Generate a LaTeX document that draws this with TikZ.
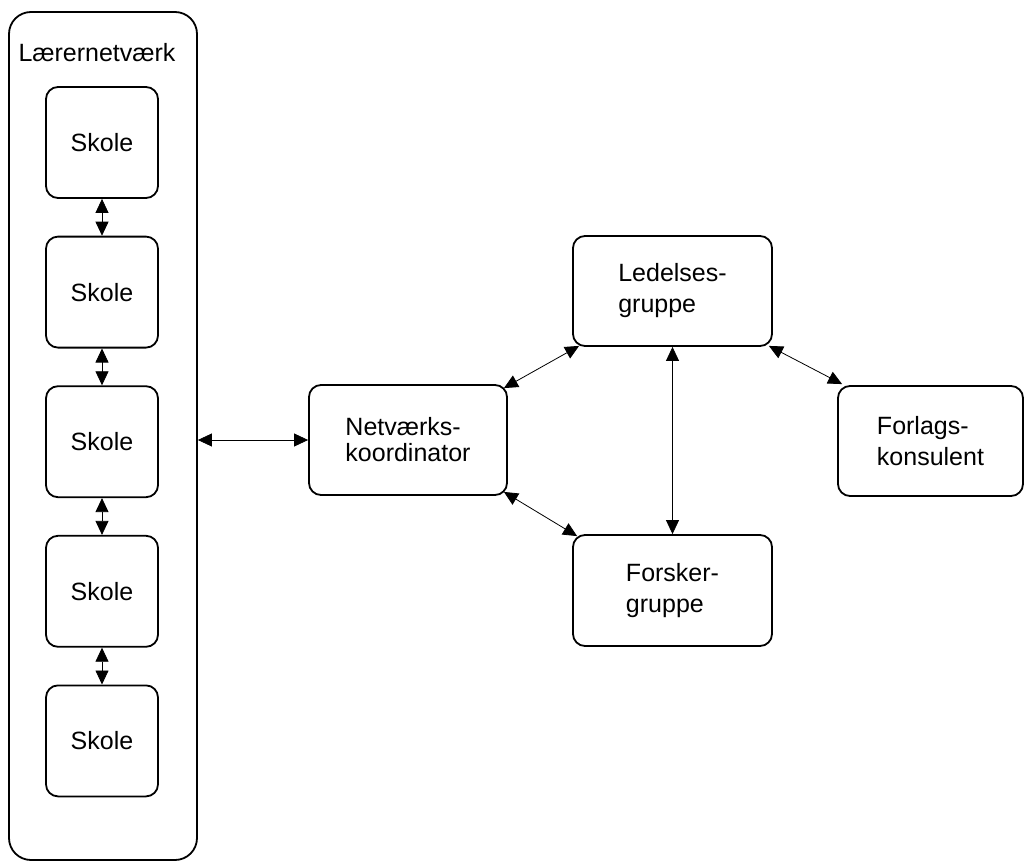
\documentclass[tikz,border=0pt]{standalone}
\usepackage{fontspec}
\setmainfont{Liberation Sans}
\usetikzlibrary{arrows.meta}
\begin{document}
\begin{tikzpicture}[x=1pt, y=-1pt, >={Triangle[length=14pt,width=13pt]},
    every node/.style={font=\fontsize{25}{26}\selectfont},
    box/.style={draw, line width=1.8pt, rounded corners=12pt, inner sep=0pt, align=left},
    link/.style={<->, line width=0.8pt}]

    \useasboundingbox (0,0) rectangle (1026,864);

    % teacher network
    \node[box, rounded corners=22pt, minimum width=188pt, minimum height=848pt] (net) at (103,436) {};
    \node (nettitle) at (97,53) {Lærernetværk};

    % schools
    \foreach \i in {1,...,5}{
        \node[box, minimum width=112pt, minimum height=111pt]
            (s\i) at (102,{142.5+149.6*(\i-1)}) {Skole};
    }
    \foreach \i/\j in {1/2,2/3,3/4,4/5}{
        \draw[link] (s\i) -- (s\j);
    }

    % groups
    \node[box, minimum width=198pt, minimum height=110pt] (koord) at (408,440) {Netværks-\\koordinator};
    \node[box, minimum width=199pt, minimum height=110pt] (ledelse) at (672.5,291) {Ledelses-\\[5pt]gruppe};
    \node[box, minimum width=199pt, minimum height=111pt] (forsker) at (672.5,590.5) {Forsker-\\[5pt]gruppe};
    \node[box, minimum width=185pt, minimum height=110pt] (forlag) at (930.5,441) {Forlags-\\[5pt]konsulent};

    % connections
    \draw[link] (net.east |- koord.west) -- (koord.west);
    \draw[link] ([shift={(-4,4)}]koord.north east) -- ([shift={(7,-1)}]ledelse.south west);
    \draw[link] ([shift={(-4,-4)}]koord.south east) -- ([shift={(5,2)}]forsker.north west);
    \draw[link] (ledelse.south) -- (forsker.north);
    \draw[link] ([shift={(-4,-1)}]ledelse.south east) -- ([shift={(5,-1)}]forlag.north west);
\end{tikzpicture}
\end{document}
